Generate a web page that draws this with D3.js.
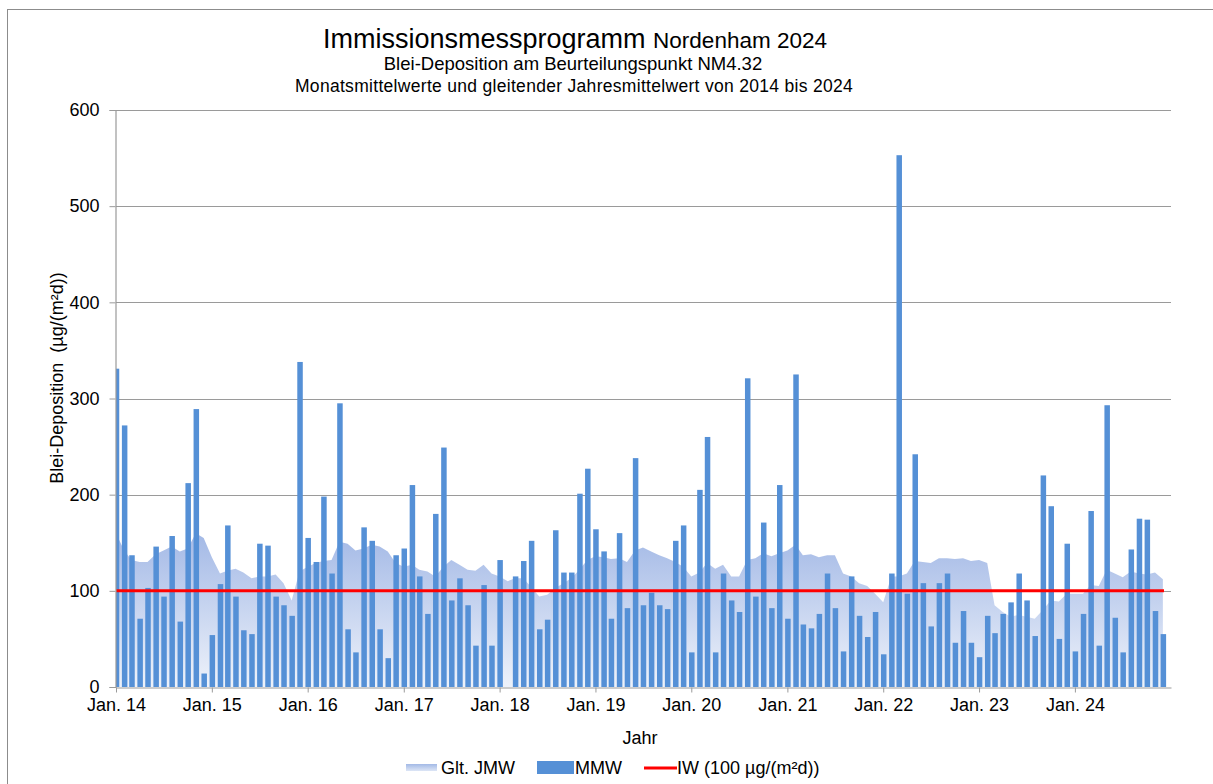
<!DOCTYPE html>
<html>
<head>
<meta charset="utf-8">
<title>Immissionsmessprogramm Nordenham 2024</title>
<style>
body { margin: 0; background: #fff; }
svg text { font-family: 'Liberation Sans', Arial, sans-serif; fill: #000; }
</style>
</head>
<body>
<script src="https://cdn.jsdelivr.net/npm/d3@7"></script>
<script>

// monthly means MMW, Jan 2014 .. Dec 2024 (null = no value)
const mmw2014 = [331, 272, 137, 71, 103, 146, 94, 157, 68, 212, 289, 14];
const mmw2015 = [54, 107, 168, 94, 59, 55, 149, 147, 94, 85, 74, 338];
const mmw2016 = [155, 130, 198, 118, 295, 60, 36, 166, 152, 60, 30, 137];
const mmw2017 = [144, 210, 115, 76, 180, 249, 90, 113, 85, 43, 106, 43];
const mmw2018 = [132, null, 115, 131, 152, 60, 70, 163, 119, 119, 201, 227];
const mmw2019 = [164, 141, 71, 160, 82, 238, 85, 98, 85, 81, 152, 168];
const mmw2020 = [36, 205, 260, 36, 118, 90, 78, 321, 94, 171, 82, 210];
const mmw2021 = [71, 325, 65, 61, 76, 118, 82, 37, 115, 74, 52, 78];
const mmw2022 = [34, 118, 553, 97, 242, 108, 63, 108, 118, 46, 79, 46];
const mmw2023 = [31, 74, 56, 76, 88, 118, 90, 53, 220, 188, 50, 149];
const mmw2024 = [37, 76, 183, 43, 293, 72, 36, 143, 175, 174, 79, 55];

// gliding annual mean (Glt. JMW)
const jmw2014 = [160, 142, 132, 130, 130, 138, 142, 146, 141, 144, 160, 155];
const jmw2015 = [135, 118, 121, 123, 119, 113, 115, 115, 117, 108, 90, 120];
const jmw2016 = [125, 129, 131, 132, 151, 149, 142, 144, 148, 146, 141, 129];
const jmw2017 = [125, 127, 122, 120, 115, 125, 132, 127, 122, 121, 127, 118];
const jmw2018 = [115, 110, 113, 113, 104, 94, 96, 103, 108, 113, 122, 132];
const jmw2019 = [136, 135, 133, 134, 130, 142, 145, 141, 137, 134, 130, 125];
const jmw2020 = [115, 119, 129, 123, 127, 115, 115, 132, 134, 139, 136, 139];
const jmw2021 = [142, 148, 137, 138, 135, 137, 137, 118, 115, 108, 105, 97];
const jmw2022 = [88, 115, 115, 118, 131, 130, 129, 134, 134, 133, 134, 131];
const jmw2023 = [132, 129, 85, 78, 73, 75, 73, 71, 80, 90, 89, 97];
const jmw2024 = [97, 97, 106, 105, 122, 118, 114, 120, 118, 117, 119, 112];

const years = [2014, 2015, 2016, 2017, 2018, 2019, 2020, 2021, 2022, 2023, 2024];
const yTicks = [0, 100, 200, 300, 400, 500, 600];
const limitValue = 100;

const mmwAll = [mmw2014, mmw2015, mmw2016, mmw2017, mmw2018, mmw2019, mmw2020, mmw2021, mmw2022, mmw2023, mmw2024];
const jmwAll = [jmw2014, jmw2015, jmw2016, jmw2017, jmw2018, jmw2019, jmw2020, jmw2021, jmw2022, jmw2023, jmw2024];

const data = [];
years.forEach((yr, i) => {
  for (let m = 0; m < 12; m++) {
    data.push({date: new Date(yr, m, 1), mmw: mmwAll[i][m], jmw: jmwAll[i][m]});
  }
});

const W = 1213, H = 784;
const plotLeft = 116, plotRight = 1171, plotTop = 110, plotBottom = 687;

const svg = d3.select("body").append("svg")
    .attr("width", W)
    .attr("height", H);

// outer frame
svg.append("rect")
    .attr("x", 7.5).attr("y", 9.5)
    .attr("width", 1215).attr("height", 790)
    .attr("fill", "none")
    .attr("stroke", "#8c8c8c");

const x = d3.scaleTime()
    .domain([new Date(2014, 0, 1), new Date(2025, 0, 1)])
    .range([plotLeft, plotRight]);

const y = d3.scaleLinear()
    .domain([0, 600])
    .range([plotBottom, plotTop]);

// gradient for the gliding mean area
const defs = svg.append("defs");
const grad = defs.append("linearGradient")
    .attr("id", "jmwGrad")
    .attr("gradientUnits", "userSpaceOnUse")
    .attr("x1", 0).attr("x2", 0)
    .attr("y1", y(160)).attr("y2", y(0));
grad.append("stop").attr("offset", "0%").attr("stop-color", "#a3b9e6");
grad.append("stop").attr("offset", "100%").attr("stop-color", "#eef2fa");

const lgrad = defs.append("linearGradient")
    .attr("id", "legGrad")
    .attr("x1", 0).attr("x2", 0).attr("y1", 0).attr("y2", 1);
lgrad.append("stop").attr("offset", "0%").attr("stop-color", "#a3b9e6");
lgrad.append("stop").attr("offset", "100%").attr("stop-color", "#dde6f6");

// gridlines
svg.append("g")
    .selectAll("line")
    .data(yTicks.filter(d => d > 0))
    .enter().append("line")
    .attr("x1", plotLeft).attr("x2", plotRight)
    .attr("y1", d => Math.round(y(d)) + 0.5)
    .attr("y2", d => Math.round(y(d)) + 0.5)
    .attr("stroke", "#9a9a9a")
    .attr("stroke-width", 1.2);

// gliding annual mean area
const area = d3.area()
    .x(d => x(d.date))
    .y0(y(0))
    .y1(d => y(d.jmw));

svg.append("path")
    .datum(data)
    .attr("d", area)
    .attr("fill", "url(#jmwGrad)");

// monthly bars
const barW = 5.5;
const barX0 = d => Math.max(plotLeft, x(d.date) + 0.5 - barW / 2);
svg.append("g")
    .selectAll("rect")
    .data(data.filter(d => d.mmw != null))
    .enter().append("rect")
    .attr("x", barX0)
    .attr("width", d => x(d.date) + 0.5 + barW / 2 - barX0(d))
    .attr("y", d => y(d.mmw))
    .attr("height", d => y(0) - y(d.mmw))
    .attr("fill", "#5590d6");

// limit line
svg.append("line")
    .attr("x1", plotLeft).attr("x2", plotRight - 7)
    .attr("y1", y(limitValue)).attr("y2", y(limitValue))
    .attr("stroke", "#ff0000")
    .attr("stroke-width", 3);

// y axis
const yAxis = d3.axisLeft(y)
    .tickValues(yTicks)
    .tickSize(6)
    .tickPadding(10);

const gy = svg.append("g")
    .attr("transform", "translate(" + (plotLeft - 0.5) + ",0)")
    .call(yAxis);
gy.select(".domain").attr("stroke", "#9a9a9a").attr("stroke-width", 1.2);
gy.selectAll(".tick line").attr("stroke", "#9a9a9a");
gy.selectAll(".tick text")
    .attr("font-size", "18px")
    .attr("fill", "#000")
    .attr("font-family", "'Liberation Sans', Arial, sans-serif");

// x axis
const xAxis = d3.axisBottom(x)
    .tickValues(years.map(yr => new Date(yr, 0, 1)))
    .tickFormat(d => "Jan. " + d3.timeFormat("%y")(d))
    .tickSize(5)
    .tickSizeOuter(0)
    .tickPadding(6);

const gx = svg.append("g")
    .attr("transform", "translate(0," + (plotBottom + 0.5) + ")")
    .call(xAxis);
gx.select(".domain").attr("stroke", "#9a9a9a").attr("stroke-width", 1.2);
gx.selectAll(".tick line").attr("stroke", "#9a9a9a");
gx.selectAll(".tick text")
    .attr("font-size", "18px")
    .attr("fill", "#000")
    .attr("font-family", "'Liberation Sans', Arial, sans-serif");

// axis titles
svg.append("text")
    .attr("x", 640).attr("y", 744)
    .attr("text-anchor", "middle")
    .attr("font-size", "18px")
    .text("Jahr");

svg.append("text")
    .attr("transform", "translate(63,378) rotate(-90)")
    .attr("text-anchor", "middle")
    .attr("font-size", "18px")
    .attr("xml:space", "preserve")
    .text("Blei-Deposition  (µg/(m²d))");

// titles
const t1 = svg.append("text")
    .attr("x", 575).attr("y", 48)
    .attr("text-anchor", "middle");
t1.append("tspan").attr("font-size", "27px").text("Immissionsmessprogramm ");
t1.append("tspan").attr("font-size", "22.5px").text("Nordenham 2024");

svg.append("text")
    .attr("x", 573).attr("y", 70)
    .attr("text-anchor", "middle")
    .attr("font-size", "18.5px")
    .text("Blei-Deposition am Beurteilungspunkt NM4.32");

svg.append("text")
    .attr("x", 574).attr("y", 92)
    .attr("text-anchor", "middle")
    .attr("font-size", "17.5px")
    .attr("letter-spacing", "0.3px")
    .text("Monatsmittelwerte und gleitender Jahresmittelwert von 2014 bis 2024");

// legend
const leg = svg.append("g").attr("font-size", "18px");
leg.append("rect")
    .attr("x", 406).attr("y", 764).attr("width", 31).attr("height", 7)
    .attr("fill", "url(#legGrad)");
leg.append("text").attr("x", 441).attr("y", 774).text("Glt. JMW");

leg.append("rect")
    .attr("x", 537).attr("y", 761).attr("width", 37).attr("height", 13)
    .attr("fill", "#5590d6");
leg.append("text").attr("x", 575).attr("y", 774).text("MMW");

leg.append("line")
    .attr("x1", 644).attr("x2", 677)
    .attr("y1", 768).attr("y2", 768)
    .attr("stroke", "#ff0000").attr("stroke-width", 3);
leg.append("text").attr("x", 677).attr("y", 774).text("IW (100 µg/(m²d))");

</script>
</body>
</html>
